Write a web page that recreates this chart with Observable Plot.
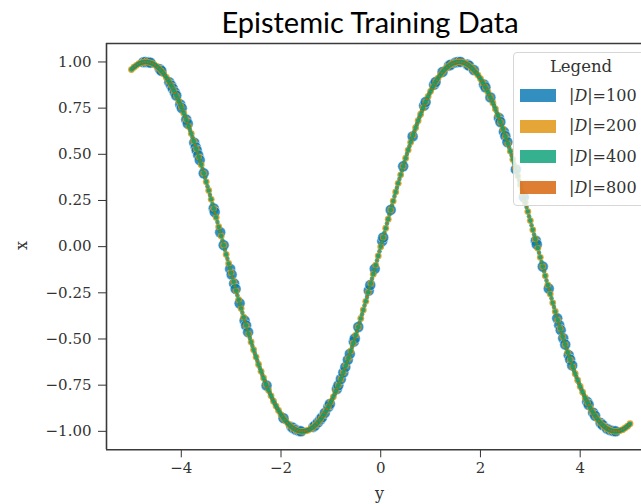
<!DOCTYPE html>
<html><head><meta charset="utf-8">
<script src="https://cdn.jsdelivr.net/npm/d3@7"></script>
<script src="https://cdn.jsdelivr.net/npm/@observablehq/plot@0.6"></script>
<style>
body{margin:0;background:#fff;}
#wrap{position:relative;width:641px;height:504px;overflow:hidden;background:#fff;}
#title{position:absolute;left:0;top:7px;width:740px;text-align:center;font-family:Lato,sans-serif;font-size:29px;line-height:29px;color:#000;}
.axlab{position:absolute;font-family:"DejaVu Serif",serif;font-size:16px;color:#333;}
#legend{position:absolute;left:513px;top:52px;width:134px;height:152px;border:1px solid #d6d6d6;border-radius:4px;background:rgba(255,255,255,0.8);font-family:"DejaVu Serif",serif;color:#333;}
#legend .lt{position:absolute;left:0;width:134px;top:4px;text-align:center;font-size:16.5px;}
#legend .sw{position:absolute;left:6px;width:36px;height:13px;}
#legend .lb{position:absolute;left:55px;font-size:16px;line-height:20px;}
</style></head><body><div id="wrap"><div id="title">Epistemic Training Data</div></div>
<script>
const xTicks = [-4, -2, 0, 2, 4];
const yTicks = [-1, -0.75, -0.5, -0.25, 0, 0.25, 0.5, 0.75, 1];
const seriesNames = ["100", "200", "400", "800"];
const seriesColors = ["#0173b2", "#de8f05", "#029e73", "#d55e00"];

// |D|=100
const x100 = [-4.76,-4.72,-4.66,-4.62,-4.43,-4.40,-4.24,-4.20,-4.17,-4.13,-4.10,-4.02,-3.99,-3.90,-3.87,-3.74,-3.71,-3.69,-3.66,-3.63,-3.55,-3.35,-3.33,-3.22,-3.15,-3.02,-2.99,-2.94,-2.91,-2.83,-2.73,-2.70,-2.66,-2.29,-1.95,-1.79,-1.76,-1.70,-1.64,-1.60,-1.35,-1.32,-1.26,-1.21,-1.18,-1.12,-1.05,-1.02,-0.88,-0.85,-0.80,-0.75,-0.71,-0.66,-0.62,-0.54,-0.52,-0.45,-0.24,-0.21,-0.12,0.03,0.05,0.20,0.45,0.64,0.87,0.90,1.07,1.10,1.24,1.37,1.40,1.50,1.55,1.60,1.74,1.77,1.87,2.07,2.10,2.20,2.37,2.40,2.47,2.50,2.54,2.71,2.87,3.11,3.13,3.25,3.37,3.54,3.58,3.61,3.66,3.70,3.77,3.80,3.84,4.14,4.17,4.26,4.30,4.41,4.45,4.54,4.60,4.66,4.71];
const y100 = [0.999,1.000,0.998,0.996,0.961,0.952,0.890,0.872,0.856,0.835,0.818,0.770,0.750,0.688,0.666,0.563,0.538,0.521,0.495,0.469,0.397,0.207,0.187,0.078,0.008,-0.121,-0.151,-0.200,-0.229,-0.307,-0.400,-0.427,-0.463,-0.752,-0.929,-0.976,-0.982,-0.992,-0.998,-1.000,-0.976,-0.969,-0.952,-0.936,-0.925,-0.900,-0.867,-0.852,-0.771,-0.751,-0.717,-0.682,-0.652,-0.613,-0.581,-0.514,-0.497,-0.435,-0.238,-0.208,-0.120,0.030,0.050,0.199,0.435,0.597,0.764,0.783,0.877,0.891,0.946,0.980,0.985,0.997,1.000,1.000,0.986,0.980,0.956,0.878,0.863,0.808,0.697,0.675,0.622,0.598,0.566,0.418,0.268,0.032,0.012,-0.108,-0.227,-0.388,-0.425,-0.452,-0.496,-0.530,-0.588,-0.612,-0.643,-0.840,-0.856,-0.899,-0.916,-0.955,-0.966,-0.986,-0.994,-0.998,-1.000];

// |D|=200
const x200 = [-5.00,-4.95,-4.90,-4.85,-4.80,-4.75,-4.70,-4.65,-4.60,-4.55,-4.50,-4.45,-4.40,-4.35,-4.30,-4.25,-4.20,-4.15,-4.10,-4.05,-4.00,-3.95,-3.90,-3.85,-3.80,-3.75,-3.70,-3.65,-3.60,-3.55,-3.50,-3.45,-3.40,-3.35,-3.30,-3.25,-3.20,-3.15,-3.10,-3.05,-3.00,-2.95,-2.90,-2.85,-2.80,-2.75,-2.70,-2.65,-2.60,-2.55,-2.50,-2.45,-2.40,-2.35,-2.30,-2.25,-2.20,-2.15,-2.10,-2.05,-2.00,-1.95,-1.90,-1.85,-1.80,-1.75,-1.70,-1.65,-1.60,-1.55,-1.50,-1.45,-1.40,-1.35,-1.30,-1.25,-1.20,-1.15,-1.10,-1.05,-1.00,-0.95,-0.90,-0.85,-0.80,-0.75,-0.70,-0.65,-0.60,-0.55,-0.50,-0.45,-0.40,-0.35,-0.30,-0.25,-0.20,-0.15,-0.10,-0.05,0.00,0.05,0.10,0.15,0.20,0.25,0.30,0.35,0.40,0.45,0.50,0.55,0.60,0.65,0.70,0.75,0.80,0.85,0.90,0.95,1.00,1.05,1.10,1.15,1.20,1.25,1.30,1.35,1.40,1.45,1.50,1.55,1.60,1.65,1.70,1.75,1.80,1.85,1.90,1.95,2.00,2.05,2.10,2.15,2.20,2.25,2.30,2.35,2.40,2.45,2.50,2.55,2.60,2.65,2.70,2.75,2.80,2.85,2.90,2.95,3.00,3.05,3.10,3.15,3.20,3.25,3.30,3.35,3.40,3.45,3.50,3.55,3.60,3.65,3.70,3.75,3.80,3.85,3.90,3.95,4.00,4.05,4.10,4.15,4.20,4.25,4.30,4.35,4.40,4.45,4.50,4.55,4.60,4.65,4.70,4.75,4.80,4.85,4.90,4.95,5.00];
const y200 = [0.959,0.972,0.982,0.991,0.996,0.999,1.000,0.998,0.994,0.987,0.978,0.966,0.952,0.935,0.916,0.895,0.872,0.845,0.818,0.788,0.757,0.723,0.688,0.651,0.612,0.572,0.530,0.487,0.443,0.397,0.351,0.304,0.256,0.207,0.158,0.108,0.058,0.008,-0.042,-0.091,-0.141,-0.190,-0.239,-0.287,-0.335,-0.382,-0.427,-0.472,-0.516,-0.558,-0.598,-0.638,-0.675,-0.711,-0.746,-0.778,-0.808,-0.837,-0.863,-0.887,-0.909,-0.929,-0.946,-0.961,-0.974,-0.984,-0.992,-0.997,-1.000,-1.000,-0.997,-0.993,-0.985,-0.976,-0.964,-0.949,-0.932,-0.913,-0.891,-0.867,-0.841,-0.813,-0.783,-0.751,-0.717,-0.682,-0.644,-0.605,-0.565,-0.523,-0.479,-0.435,-0.389,-0.343,-0.296,-0.247,-0.199,-0.149,-0.100,-0.050,0.000,0.050,0.100,0.149,0.199,0.247,0.296,0.343,0.389,0.435,0.479,0.523,0.565,0.605,0.644,0.682,0.717,0.751,0.783,0.813,0.841,0.867,0.891,0.913,0.932,0.949,0.964,0.976,0.985,0.993,0.997,1.000,1.000,0.997,0.992,0.984,0.974,0.961,0.946,0.929,0.909,0.887,0.863,0.837,0.808,0.778,0.746,0.711,0.675,0.638,0.598,0.558,0.516,0.472,0.427,0.382,0.335,0.287,0.239,0.190,0.141,0.091,0.042,-0.008,-0.058,-0.108,-0.158,-0.207,-0.256,-0.304,-0.351,-0.397,-0.443,-0.487,-0.530,-0.572,-0.612,-0.651,-0.688,-0.723,-0.757,-0.788,-0.818,-0.845,-0.872,-0.895,-0.916,-0.935,-0.952,-0.966,-0.978,-0.987,-0.994,-0.998,-1.000,-0.999,-0.996,-0.991,-0.982,-0.972,-0.959];

// |D|=400
const x400 = [-5,-4.975,-4.95,-4.925,-4.9,-4.875,-4.85,-4.825,-4.8,-4.775,-4.75,-4.725,-4.7,-4.675,-4.65,-4.625,-4.6,-4.575,-4.55,-4.525,-4.5,-4.475,-4.45,-4.425,-4.4,-4.375,-4.35,-4.325,-4.3,-4.275,-4.25,-4.225,-4.2,-4.175,-4.15,-4.125,-4.1,-4.075,-4.05,-4.025,-4,-3.975,-3.95,-3.925,-3.9,-3.875,-3.85,-3.825,-3.8,-3.775,-3.75,-3.725,-3.7,-3.675,-3.65,-3.625,-3.6,-3.575,-3.55,-3.525,-3.5,-3.475,-3.45,-3.425,-3.4,-3.375,-3.35,-3.325,-3.3,-3.275,-3.25,-3.225,-3.2,-3.175,-3.15,-3.125,-3.1,-3.075,-3.05,-3.025,-3,-2.975,-2.95,-2.925,-2.9,-2.875,-2.85,-2.825,-2.8,-2.775,-2.75,-2.725,-2.7,-2.675,-2.65,-2.625,-2.6,-2.575,-2.55,-2.525,-2.5,-2.475,-2.45,-2.425,-2.4,-2.375,-2.35,-2.325,-2.3,-2.275,-2.25,-2.225,-2.2,-2.175,-2.15,-2.125,-2.1,-2.075,-2.05,-2.025,-2,-1.975,-1.95,-1.925,-1.9,-1.875,-1.85,-1.825,-1.8,-1.775,-1.75,-1.725,-1.7,-1.675,-1.65,-1.625,-1.6,-1.575,-1.55,-1.525,-1.5,-1.475,-1.45,-1.425,-1.4,-1.375,-1.35,-1.325,-1.3,-1.275,-1.25,-1.225,-1.2,-1.175,-1.15,-1.125,-1.1,-1.075,-1.05,-1.025,-1,-0.975,-0.95,-0.925,-0.9,-0.875,-0.85,-0.825,-0.8,-0.775,-0.75,-0.725,-0.7,-0.675,-0.65,-0.625,-0.6,-0.575,-0.55,-0.525,-0.5,-0.475,-0.45,-0.425,-0.4,-0.375,-0.35,-0.325,-0.3,-0.275,-0.25,-0.225,-0.2,-0.175,-0.15,-0.125,-0.1,-0.075,-0.05,-0.025,0,0.025,0.05,0.075,0.1,0.125,0.15,0.175,0.2,0.225,0.25,0.275,0.3,0.325,0.35,0.375,0.4,0.425,0.45,0.475,0.5,0.525,0.55,0.575,0.6,0.625,0.65,0.675,0.7,0.725,0.75,0.775,0.8,0.825,0.85,0.875,0.9,0.925,0.95,0.975,1,1.025,1.05,1.075,1.1,1.125,1.15,1.175,1.2,1.225,1.25,1.275,1.3,1.325,1.35,1.375,1.4,1.425,1.45,1.475,1.5,1.525,1.55,1.575,1.6,1.625,1.65,1.675,1.7,1.725,1.75,1.775,1.8,1.825,1.85,1.875,1.9,1.925,1.95,1.975,2,2.025,2.05,2.075,2.1,2.125,2.15,2.175,2.2,2.225,2.25,2.275,2.3,2.325,2.35,2.375,2.4,2.425,2.45,2.475,2.5,2.525,2.55,2.575,2.6,2.625,2.65,2.675,2.7,2.725,2.75,2.775,2.8,2.825,2.85,2.875,2.9,2.925,2.95,2.975,3,3.025,3.05,3.075,3.1,3.125,3.15,3.175,3.2,3.225,3.25,3.275,3.3,3.325,3.35,3.375,3.4,3.425,3.45,3.475,3.5,3.525,3.55,3.575,3.6,3.625,3.65,3.675,3.7,3.725,3.75,3.775,3.8,3.825,3.85,3.875,3.9,3.925,3.95,3.975,4,4.025,4.05,4.075,4.1,4.125,4.15,4.175,4.2,4.225,4.25,4.275,4.3,4.325,4.35,4.375,4.4,4.425,4.45,4.475,4.5,4.525,4.55,4.575,4.6,4.625,4.65,4.675,4.7,4.725,4.75,4.775,4.8,4.825,4.85,4.875,4.9,4.925,4.95,4.975,5];
const y400 = [0.959,0.966,0.972,0.977,0.982,0.987,0.991,0.993,0.996,0.998,0.999,1.000,1.000,0.999,0.998,0.996,0.994,0.991,0.987,0.983,0.978,0.972,0.966,0.959,0.952,0.944,0.935,0.926,0.916,0.906,0.895,0.883,0.872,0.859,0.845,0.832,0.818,0.803,0.788,0.773,0.757,0.740,0.723,0.706,0.688,0.670,0.651,0.632,0.612,0.592,0.572,0.551,0.530,0.509,0.487,0.465,0.443,0.420,0.397,0.374,0.351,0.327,0.304,0.280,0.256,0.231,0.207,0.183,0.158,0.133,0.108,0.083,0.058,0.033,0.008,-0.017,-0.042,-0.066,-0.091,-0.116,-0.141,-0.165,-0.190,-0.215,-0.239,-0.263,-0.287,-0.311,-0.335,-0.358,-0.382,-0.405,-0.427,-0.450,-0.472,-0.494,-0.516,-0.537,-0.558,-0.578,-0.598,-0.618,-0.638,-0.657,-0.675,-0.693,-0.711,-0.728,-0.746,-0.762,-0.778,-0.793,-0.808,-0.823,-0.837,-0.850,-0.863,-0.875,-0.887,-0.898,-0.909,-0.919,-0.929,-0.938,-0.946,-0.954,-0.961,-0.968,-0.974,-0.979,-0.984,-0.988,-0.992,-0.995,-0.997,-0.999,-1.000,-1.000,-1.000,-0.999,-0.997,-0.995,-0.993,-0.990,-0.985,-0.981,-0.976,-0.970,-0.964,-0.957,-0.949,-0.941,-0.932,-0.923,-0.913,-0.902,-0.891,-0.880,-0.867,-0.855,-0.841,-0.828,-0.813,-0.799,-0.783,-0.768,-0.751,-0.735,-0.717,-0.700,-0.682,-0.663,-0.644,-0.625,-0.605,-0.585,-0.565,-0.544,-0.523,-0.501,-0.479,-0.457,-0.435,-0.412,-0.389,-0.366,-0.343,-0.319,-0.296,-0.272,-0.247,-0.223,-0.199,-0.174,-0.149,-0.125,-0.100,-0.075,-0.050,-0.025,0.000,0.025,0.050,0.075,0.100,0.125,0.149,0.174,0.199,0.223,0.247,0.272,0.296,0.319,0.343,0.366,0.389,0.412,0.435,0.457,0.479,0.501,0.523,0.544,0.565,0.585,0.605,0.625,0.644,0.663,0.682,0.700,0.717,0.735,0.751,0.768,0.783,0.799,0.813,0.828,0.841,0.855,0.867,0.880,0.891,0.902,0.913,0.923,0.932,0.941,0.949,0.957,0.964,0.970,0.976,0.981,0.985,0.990,0.993,0.995,0.997,0.999,1.000,1.000,1.000,0.999,0.997,0.995,0.992,0.988,0.984,0.979,0.974,0.968,0.961,0.954,0.946,0.938,0.929,0.919,0.909,0.898,0.887,0.875,0.863,0.850,0.837,0.823,0.808,0.793,0.778,0.762,0.746,0.728,0.711,0.693,0.675,0.657,0.638,0.618,0.598,0.578,0.558,0.537,0.516,0.494,0.472,0.450,0.427,0.405,0.382,0.358,0.335,0.311,0.287,0.263,0.239,0.215,0.190,0.165,0.141,0.116,0.091,0.066,0.042,0.017,-0.008,-0.033,-0.058,-0.083,-0.108,-0.133,-0.158,-0.183,-0.207,-0.231,-0.256,-0.280,-0.304,-0.327,-0.351,-0.374,-0.397,-0.420,-0.443,-0.465,-0.487,-0.509,-0.530,-0.551,-0.572,-0.592,-0.612,-0.632,-0.651,-0.670,-0.688,-0.706,-0.723,-0.740,-0.757,-0.773,-0.788,-0.803,-0.818,-0.832,-0.845,-0.859,-0.872,-0.883,-0.895,-0.906,-0.916,-0.926,-0.935,-0.944,-0.952,-0.959,-0.966,-0.972,-0.978,-0.983,-0.987,-0.991,-0.994,-0.996,-0.998,-0.999,-1.000,-1.000,-0.999,-0.998,-0.996,-0.993,-0.991,-0.987,-0.982,-0.977,-0.972,-0.966,-0.959];

// |D|=800
const x800 = [-4.975,-4.925,-4.875,-4.825,-4.775,-4.725,-4.675,-4.625,-4.575,-4.525,-4.475,-4.425,-4.375,-4.325,-4.275,-4.225,-4.175,-4.125,-4.075,-4.025,-3.975,-3.925,-3.875,-3.825,-3.775,-3.725,-3.675,-3.625,-3.575,-3.525,-3.475,-3.425,-3.375,-3.325,-3.275,-3.225,-3.175,-3.125,-3.075,-3.025,-2.975,-2.925,-2.875,-2.825,-2.775,-2.725,-2.675,-2.625,-2.575,-2.525,-2.475,-2.425,-2.375,-2.325,-2.275,-2.225,-2.175,-2.125,-2.075,-2.025,-1.975,-1.925,-1.875,-1.825,-1.775,-1.725,-1.675,-1.625,-1.575,-1.525,-1.475,-1.425,-1.375,-1.325,-1.275,-1.225,-1.175,-1.125,-1.075,-1.025,-0.975,-0.925,-0.875,-0.825,-0.775,-0.725,-0.675,-0.625,-0.575,-0.525,-0.475,-0.425,-0.375,-0.325,-0.275,-0.225,-0.175,-0.125,-0.075,-0.025,0.025,0.075,0.125,0.175,0.225,0.275,0.325,0.375,0.425,0.475,0.525,0.575,0.625,0.675,0.725,0.775,0.825,0.875,0.925,0.975,1.025,1.075,1.125,1.175,1.225,1.275,1.325,1.375,1.425,1.475,1.525,1.575,1.625,1.675,1.725,1.775,1.825,1.875,1.925,1.975,2.025,2.075,2.125,2.175,2.225,2.275,2.325,2.375,2.425,2.475,2.525,2.575,2.625,2.675,2.725,2.775,2.825,2.875,2.925,2.975,3.025,3.075,3.125,3.175,3.225,3.275,3.325,3.375,3.425,3.475,3.525,3.575,3.625,3.675,3.725,3.775,3.825,3.875,3.925,3.975,4.025,4.075,4.125,4.175,4.225,4.275,4.325,4.375,4.425,4.475,4.525,4.575,4.625,4.675,4.725,4.775,4.825,4.875,4.925,4.975];
const y800 = [0.966,0.977,0.987,0.993,0.998,1.000,0.999,0.996,0.991,0.983,0.972,0.959,0.944,0.926,0.906,0.883,0.859,0.832,0.803,0.773,0.740,0.706,0.670,0.632,0.592,0.551,0.509,0.465,0.420,0.374,0.327,0.280,0.231,0.183,0.133,0.083,0.033,-0.017,-0.066,-0.116,-0.165,-0.215,-0.263,-0.311,-0.358,-0.405,-0.450,-0.494,-0.537,-0.578,-0.618,-0.657,-0.693,-0.728,-0.762,-0.793,-0.823,-0.850,-0.875,-0.898,-0.919,-0.938,-0.954,-0.968,-0.979,-0.988,-0.995,-0.999,-1.000,-0.999,-0.995,-0.990,-0.981,-0.970,-0.957,-0.941,-0.923,-0.902,-0.880,-0.855,-0.828,-0.799,-0.768,-0.735,-0.700,-0.663,-0.625,-0.585,-0.544,-0.501,-0.457,-0.412,-0.366,-0.319,-0.272,-0.223,-0.174,-0.125,-0.075,-0.025,0.025,0.075,0.125,0.174,0.223,0.272,0.319,0.366,0.412,0.457,0.501,0.544,0.585,0.625,0.663,0.700,0.735,0.768,0.799,0.828,0.855,0.880,0.902,0.923,0.941,0.957,0.970,0.981,0.990,0.995,0.999,1.000,0.999,0.995,0.988,0.979,0.968,0.954,0.938,0.919,0.898,0.875,0.850,0.823,0.793,0.762,0.728,0.693,0.657,0.618,0.578,0.537,0.494,0.450,0.405,0.358,0.311,0.263,0.215,0.165,0.116,0.066,0.017,-0.033,-0.083,-0.133,-0.183,-0.231,-0.280,-0.327,-0.374,-0.420,-0.465,-0.509,-0.551,-0.592,-0.632,-0.670,-0.706,-0.740,-0.773,-0.803,-0.832,-0.859,-0.883,-0.906,-0.926,-0.944,-0.959,-0.972,-0.983,-0.991,-0.996,-0.999,-1.000,-0.998,-0.993,-0.987,-0.977,-0.966];

const xDomain = [-5.5, 5.23];
const yDomain = [-1.1, 1.1];

const toRows = (xs, ys) => xs.map((x, i) => ({x, y: ys[i]}));
const series = [toRows(x100, y100), toRows(x200, y200), toRows(x400, y400), toRows(x800, y800)];
const radii = [5.5, 3.4, 2.3, 1.1];
const spine = "#3a3a3a";

const chart = Plot.plot({
  width: 641, height: 504,
  marginTop: 43, marginBottom: 54.7, marginLeft: 106, marginRight: 0,
  x: {domain: xDomain, ticks: xTicks, tickFormat: d3.format("d"), tickSize: 8, tickPadding: 5, label: null},
  y: {domain: yDomain, ticks: yTicks, tickFormat: d3.format(".2f"), tickSize: 8, tickPadding: 7, label: null},
  style: {fontFamily: "DejaVu Serif", fontSize: "15px", color: "#333", background: "white", overflow: "visible"},
  marks: [
    ...series.map((rows, i) => Plot.dot(rows, {x: "x", y: "y", r: radii[i], fill: seriesColors[i], fillOpacity: 0.8, stroke: i === 0 ? "white" : "none", strokeWidth: 0.6, strokeOpacity: 0.8})),
    Plot.ruleY([yDomain[1]], {stroke: spine, strokeWidth: 1.6}),
    Plot.ruleY([yDomain[0]], {stroke: spine, strokeWidth: 1.6}),
    Plot.ruleX([xDomain[0]], {stroke: spine, strokeWidth: 1.6})
  ]
});
const wrap = document.getElementById("wrap");
chart.style.position = "absolute";
chart.style.left = "0px";
chart.style.top = "0px";
wrap.insertBefore(chart, wrap.firstChild);

// axis labels
const xl = document.createElement("div");
xl.className = "axlab"; xl.textContent = "y";
xl.style.left = "375px"; xl.style.top = "484px";
wrap.appendChild(xl);
const yl = document.createElement("div");
yl.className = "axlab"; yl.textContent = "x";
yl.style.left = "17px"; yl.style.top = "236px"; yl.style.transform = "rotate(-90deg)";
wrap.appendChild(yl);

// legend
const lg = document.createElement("div");
lg.id = "legend";
const lt = document.createElement("div");
lt.className = "lt"; lt.textContent = "Legend";
lg.appendChild(lt);
seriesNames.forEach((n, i) => {
  const top = 36 + i * 30.7;
  const sw = document.createElement("div");
  sw.className = "sw";
  sw.style.top = top + "px";
  sw.style.background = seriesColors[i];
  sw.style.opacity = 0.8;
  lg.appendChild(sw);
  const lb = document.createElement("div");
  lb.className = "lb";
  lb.style.top = (top - 3.5) + "px";
  lb.innerHTML = "|<i>D</i>|=" + n;
  lg.appendChild(lb);
});
wrap.appendChild(lg);
</script></body></html>
